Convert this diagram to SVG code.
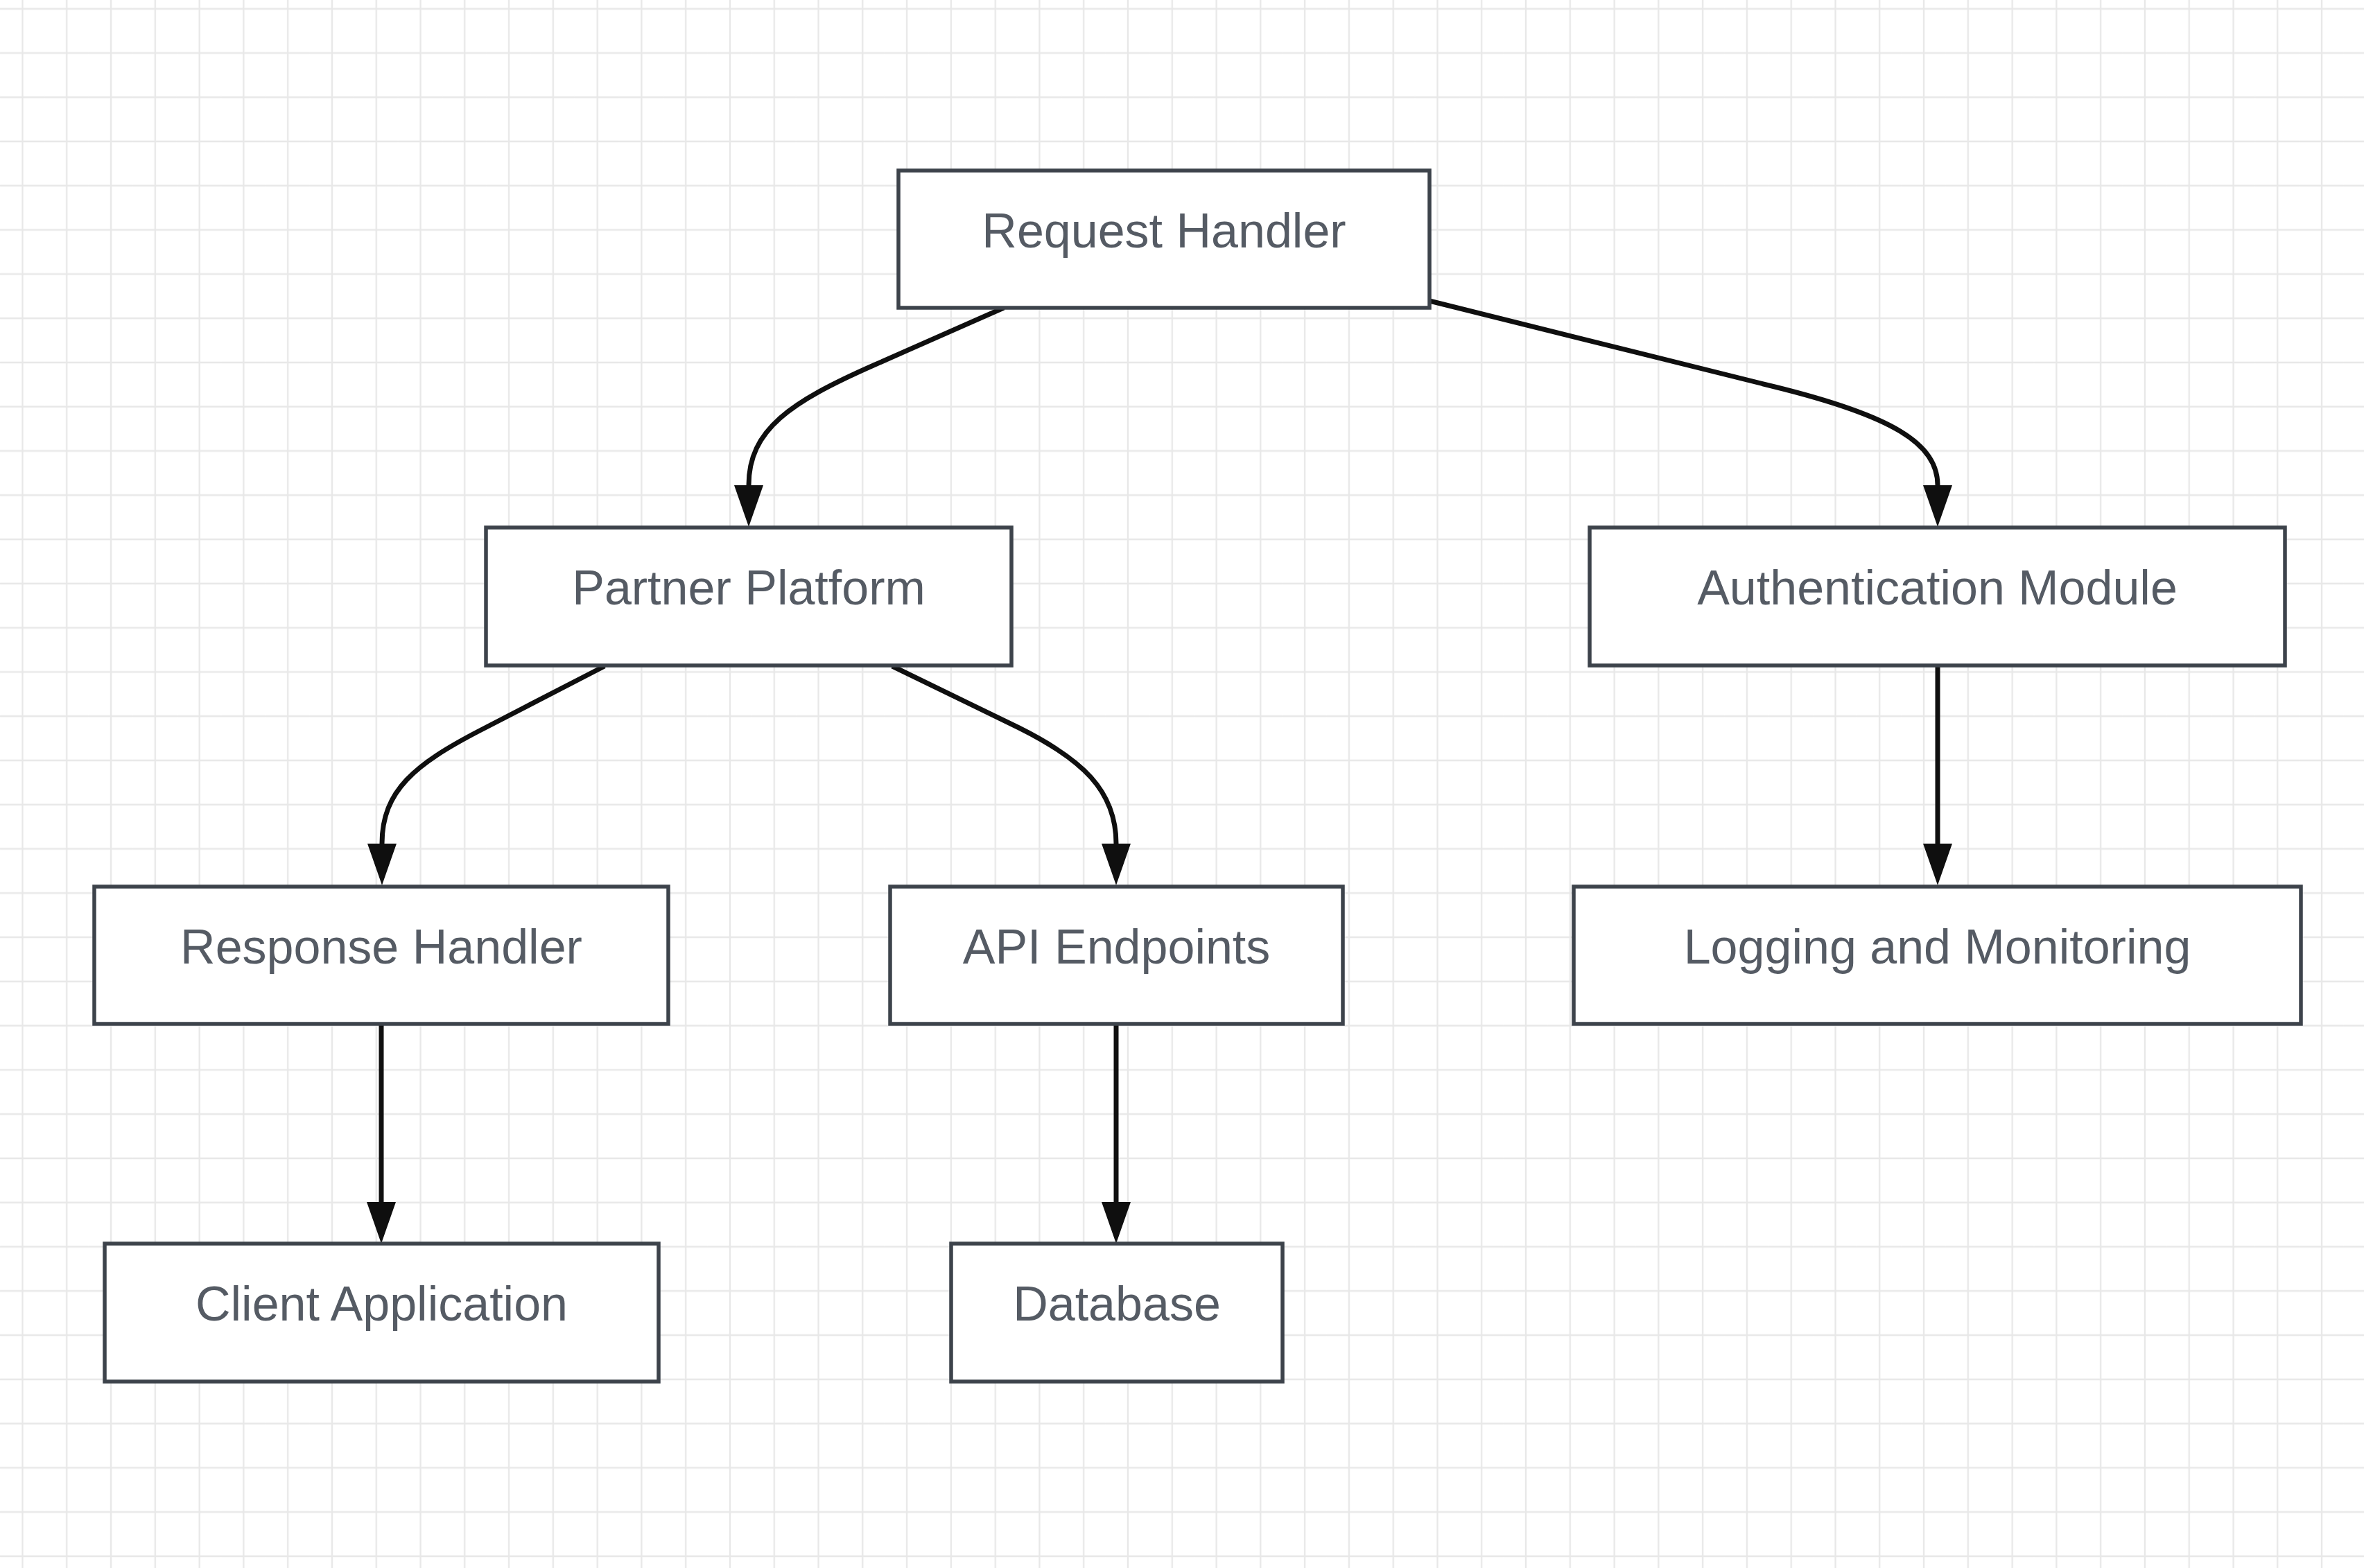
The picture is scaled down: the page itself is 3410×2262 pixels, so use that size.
<svg xmlns="http://www.w3.org/2000/svg" width="3410" height="2262" viewBox="0 0 3410 2262">
<style>
.node rect{fill:#ffffff;stroke:#3d434b;stroke-width:5.5}
.node text{font-family:"Liberation Sans",Arial,sans-serif;font-size:70px;fill:#555b64;text-anchor:middle}
.edge{fill:none;stroke:#0f0f0f;stroke-width:7;marker-end:url(#arrow)}
</style>
<defs>
<pattern id="grid" patternUnits="userSpaceOnUse" x="0.61" y="-19.19" width="63.78" height="63.78">
<path d="M31.89 0 V63.78 M0 31.89 H63.78" fill="none" stroke="#e8e8e8" stroke-width="2.4"/>
</pattern>
<marker id="arrow" viewBox="0 0 60 42" refX="0" refY="21" markerWidth="60" markerHeight="42" markerUnits="userSpaceOnUse" orient="auto">
<path d="M0,0 L60,21 L0,42 Z" fill="#0f0f0f"/>
</marker>
</defs>
<rect x="0" y="0" width="3410" height="2262" fill="#ffffff"/>
<rect x="0" y="0" width="3410" height="2262" fill="url(#grid)"/>
<g id="connectors">
<path class="edge" d="M1448,444 L1260,527 C1140,580 1080,620 1080,700"/>
<path class="edge" d="M2062,434 L2560,558 C2730,600 2795,640 2795,700"/>
<path class="edge" d="M872,961 L690,1055 C600,1102 551,1140 551,1217"/>
<path class="edge" d="M1287,961 L1470,1050 C1560,1095 1610,1140 1610,1217"/>
<path class="edge" d="M2795,961 V1217"/>
<path class="edge" d="M550,1477 V1734"/>
<path class="edge" d="M1610,1477 V1734"/>
</g>
<g id="request-handler" class="node"><rect x="1296" y="246" width="766" height="198"/><text x="1679" y="357">Request Handler</text></g>
<g id="partner-platform" class="node"><rect x="701" y="761" width="758" height="199"/><text x="1080" y="872">Partner Platform</text></g>
<g id="authentication-module" class="node"><rect x="2293" y="761" width="1003" height="199"/><text x="2794.5" y="872">Authentication Module</text></g>
<g id="response-handler" class="node"><rect x="136" y="1279" width="828" height="198"/><text x="550" y="1390">Response Handler</text></g>
<g id="api-endpoints" class="node"><rect x="1284" y="1279" width="653" height="198"/><text x="1610.5" y="1390">API Endpoints</text></g>
<g id="logging-monitoring" class="node"><rect x="2270" y="1279" width="1049" height="198"/><text x="2794.5" y="1390">Logging and Monitoring</text></g>
<g id="client-application" class="node"><rect x="151" y="1794" width="799" height="199"/><text x="550.5" y="1905">Client Application</text></g>
<g id="database" class="node"><rect x="1372" y="1794" width="478" height="199"/><text x="1611" y="1905">Database</text></g>
</svg>
